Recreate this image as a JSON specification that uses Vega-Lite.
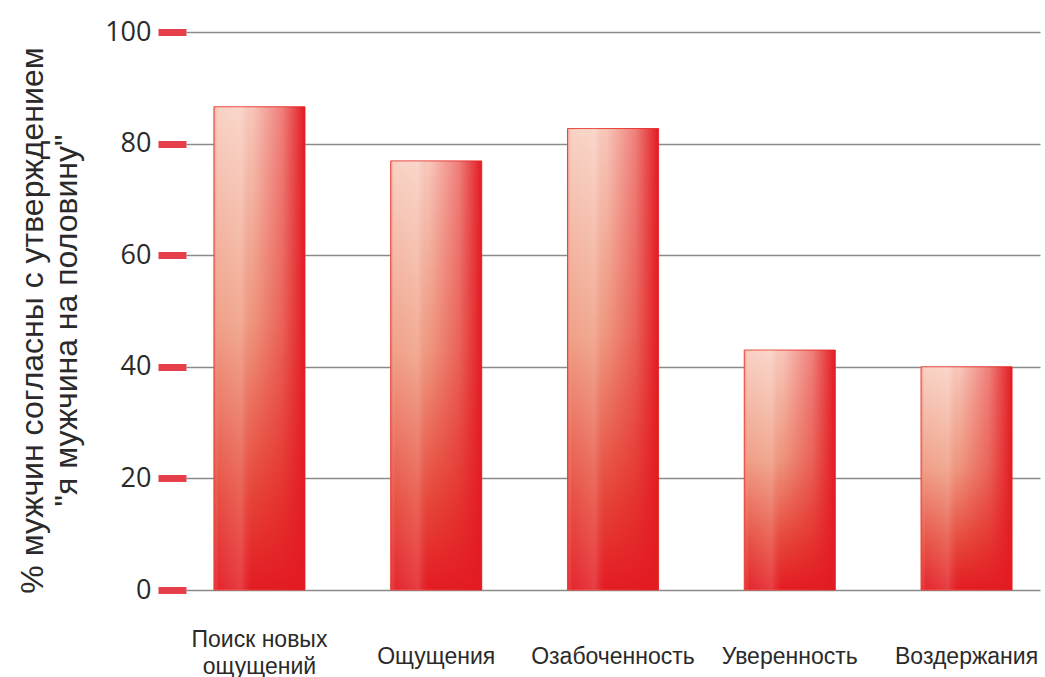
{
  "$schema": "https://vega.github.io/schema/vega-lite/v6.json",
  "width": 854,
  "height": 558,
  "autosize": {"type": "none"},
  "padding": {"left": 186, "top": 32, "right": 5, "bottom": 87},
  "background": "white",
  "config": {"view": {"stroke": null}},
  "data": {
    "values": [
      {"category": "Поиск новых ощущений", "value": 86.6},
      {"category": "Ощущения", "value": 76.9},
      {"category": "Озабоченность", "value": 82.7},
      {"category": "Уверенность", "value": 43.0},
      {"category": "Воздержания", "value": 40.0}
    ]
  },
  "encoding": {
    "x": {
      "field": "category",
      "type": "nominal",
      "sort": null,
      "scale": {"paddingInner": 0.485, "paddingOuter": 0.158},
      "axis": {
        "title": null,
        "domain": false,
        "ticks": false,
        "labelAngle": 0,
        "labelFont": "Liberation Sans",
        "labelFontSize": 23,
        "labelColor": "#2a2a2a",
        "labelBaseline": "middle",
        "labelPadding": {"condition": {"test": "datum.value == 'Поиск новых ощущений'", "value": 49}, "value": 66},
        "labelLineHeight": 27,
        "labelExpr": "datum.value == 'Поиск новых ощущений' ? ['Поиск новых', 'ощущений'] : datum.value"
      }
    },
    "y": {
      "field": "value",
      "type": "quantitative",
      "scale": {"domain": [0, 100]},
      "axis": {
        "values": [0, 20, 40, 60, 80, 100],
        "domain": false,
        "grid": true,
        "gridColor": "#8a8a8a",
        "gridWidth": 1.5,
        "tickColor": "#e5404a",
        "tickSize": 28,
        "tickWidth": 7,
        "labelFont": "Open Sans",
        "labelFontSize": 27,
        "labelColor": "#2a2a2a",
        "labelPadding": 7,
        "title": ["% мужчин согласны с утверждением", "\"я мужчина на половину\""],
        "titleFont": "Liberation Sans",
        "titleFontSize": 32,
        "titleFontWeight": "normal",
        "titleColor": "#2a2a2a",
        "titleLineHeight": 34,
        "titleX": -137,
        "titleY": 288,
        "titleAlign": "center",
        "titleBaseline": "bottom"
      }
    }
  },
  "layer": [
    {
      "mark": {
        "type": "bar",
        "stroke": "#e8453a",
        "strokeWidth": 1,
        "fill": {
          "gradient": "linear",
          "x1": 0, "y1": 0, "x2": 0, "y2": 1,
          "stops": [
            {"offset": 0, "color": "#f8d0c2"},
            {"offset": 0.45, "color": "#ef9c82"},
            {"offset": 0.8, "color": "#e6483a"},
            {"offset": 1, "color": "#e31b23"}
          ]
        }
      }
    },
    {
      "mark": {
        "type": "bar",
        "fill": {
          "gradient": "linear",
          "x1": 0, "y1": 0, "x2": 1, "y2": 0,
          "stops": [
            {"offset": 0, "color": "rgba(232,60,50,0.4)"},
            {"offset": 0.05, "color": "rgba(255,255,255,0.05)"},
            {"offset": 0.3, "color": "rgba(255,255,255,0.15)"},
            {"offset": 0.42, "color": "rgba(227,27,35,0.05)"},
            {"offset": 0.75, "color": "rgba(227,27,35,0.45)"},
            {"offset": 1, "color": "rgba(227,27,35,1)"}
          ]
        }
      }
    }
  ]
}
